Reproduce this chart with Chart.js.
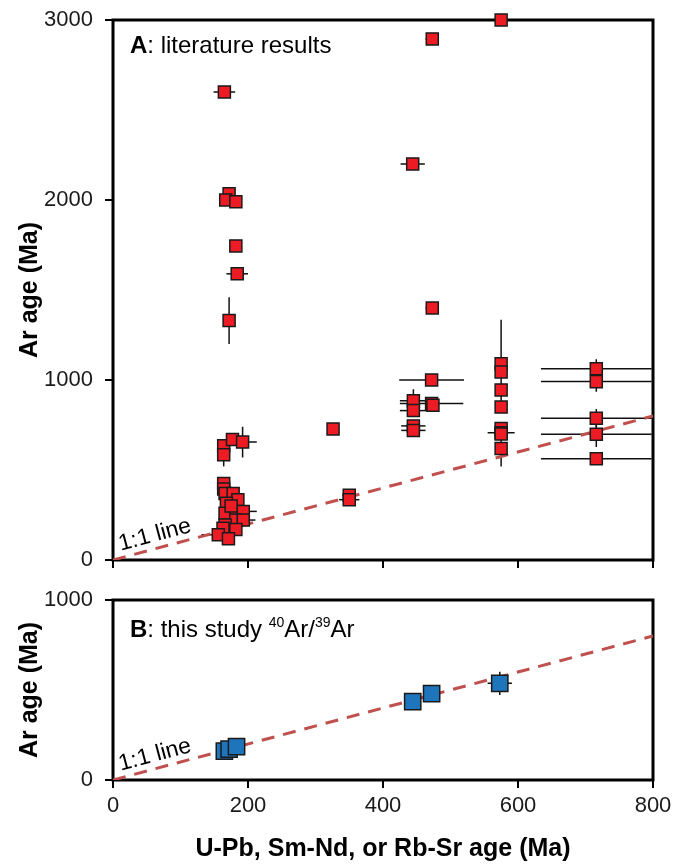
<!DOCTYPE html>
<html>
<head>
<meta charset="utf-8">
<script src="https://cdn.jsdelivr.net/npm/chart.js@4.4.0/dist/chart.umd.min.js"></script>
<style>
  html, body { margin: 0; padding: 0; background: #fff; }
  #wrap { position: relative; width: 673px; height: 864px; }
  canvas { position: absolute; left: 0; }
  #chartA { top: 0; }
  #chartB { top: 580px; }
</style>
</head>
<body>
<div id="wrap">
  <canvas id="chartA" width="673" height="580"></canvas>
  <canvas id="chartB" width="673" height="284"></canvas>
</div>
<script>
// --- Data ---

// Panel A: literature results (x = U-Pb/Sm-Nd/Rb-Sr age, y = Ar age, Ma)
const litX = [165, 172, 167, 182, 182, 184, 172,
  164, 164, 177, 192, 164, 164, 166, 178, 185, 168, 166, 182, 193, 182, 193, 166, 182, 163, 156, 171, 175,
  326, 350, 350,
  444, 445, 445, 445, 445,
  473, 473, 472, 472, 474,
  575, 575, 575, 575, 575, 575, 575, 575, 575,
  716, 716, 716, 716, 716];
const litY = [2600, 2035, 2000, 1990, 1745, 1590, 1330,
  635, 585, 670, 655, 425, 395, 370, 370, 335, 315, 260, 270, 270, 222, 222, 195, 170, 176, 140, 118, 300,
  728, 360, 335,
  2200, 885, 830, 745, 720,
  2895, 1400, 1000, 870, 860,
  3000, 1090, 1045, 945, 850, 730, 707, 700, 620,
  1063, 991, 787, 698, 563];
const litXErr = [16, 0, 0, 0, 0, 16, 0,
  0, 0, 0, 21, 0, 0, 0, 0, 0, 0, 0, 0, 20, 0, 18, 0, 0, 0, 25, 0, 0,
  0, 10, 15,
  18, 20, 20, 18, 18,
  10, 10, 48, 47, 0,
  0, 0, 0, 0, 0, 0, 20, 0, 0,
  82, 82, 82, 82, 82];
const litYErr = [0, 0, 0, 25, 0, 0, 130,
  0, 65, 0, 85, 0, 0, 0, 0, 0, 0, 0, 0, 0, 0, 0, 0, 0, 0, 0, 0, 0,
  0, 0, 0,
  0, 64, 0, 0, 0,
  0, 0, 0, 0, 0,
  0, 245, 0, 0, 0, 0, 0, 0, 100,
  52, 56, 52, 70, 0];

// Panel B: this study 40Ar/39Ar
const studyX = [165, 172, 183, 444, 472, 573];
const studyY = [160, 172, 185, 435, 480, 537];
const studyXErr = [0, 0, 0, 12, 0, 18];
const studyYErr = [0, 0, 0, 0, 0, 65];

// 1:1 reference line
const lineX = [0, 800];
const lineY = [0, 800];

// Tick labels
const xTicks = [0, 200, 400, 600, 800];
const yTicksA = [0, 1000, 2000, 3000];
const yTicksB = [0, 1000];

const FONT = "'Liberation Sans', Arial, sans-serif";

// --- Plugins ---

// Draws x/y error bars (stored on each dataset) under the markers.
const errorBars = {
  id: 'errorBars',
  beforeDatasetsDraw(chart) {
    const { ctx, chartArea, scales: { x, y } } = chart;
    ctx.save();
    ctx.beginPath();
    ctx.rect(chartArea.left, chartArea.top, chartArea.width, chartArea.height);
    ctx.clip();
    ctx.strokeStyle = '#111';
    ctx.lineWidth = 1.5;
    chart.data.datasets.forEach(ds => {
      if (!ds.xErr) return;
      ds.data.forEach((p, i) => {
        const px = x.getPixelForValue(p.x);
        const py = y.getPixelForValue(p.y);
        const ex = ds.xErr[i], ey = ds.yErr[i];
        ctx.beginPath();
        if (ex) {
          ctx.moveTo(x.getPixelForValue(p.x - ex), py);
          ctx.lineTo(x.getPixelForValue(p.x + ex), py);
        }
        if (ey) {
          ctx.moveTo(px, y.getPixelForValue(p.y - ey));
          ctx.lineTo(px, y.getPixelForValue(p.y + ey));
        }
        ctx.stroke();
      });
    });
    ctx.restore();
  }
};

// Full black frame around the plot area
const frame = {
  id: 'frame',
  beforeDatasetsDraw(chart) {
    const { ctx, chartArea: a } = chart;
    ctx.save();
    ctx.strokeStyle = '#000';
    ctx.lineWidth = 3;
    ctx.strokeRect(a.left, a.top, a.right - a.left, a.bottom - a.top);
    ctx.restore();
  }
};

// Panel caption + "1:1 line" label along the dashed line
const annotations = {
  id: 'annotations',
  afterDatasetsDraw(chart, args, opts) {
    const { ctx, chartArea: a, scales: { x, y } } = chart;
    ctx.save();
    ctx.fillStyle = '#000';
    ctx.textBaseline = 'alphabetic';
    ctx.textAlign = 'left';

    // caption
    let cx = a.left + 17;
    const cy = a.top + opts.captionDy;
    ctx.font = `bold 24px ${FONT}`;
    ctx.fillText(opts.letter, cx, cy);
    cx += ctx.measureText(opts.letter).width;
    ctx.font = `24px ${FONT}`;
    opts.parts.forEach(part => {
      if (part.sup) {
        ctx.font = `14px ${FONT}`;
        ctx.fillText(part.text, cx, cy - 10);
        cx += ctx.measureText(part.text).width;
        ctx.font = `24px ${FONT}`;
      } else {
        ctx.fillText(part.text, cx, cy);
        cx += ctx.measureText(part.text).width;
      }
    });

    // 1:1 line label
    const x0 = x.getPixelForValue(lineX[0]), y0 = y.getPixelForValue(lineY[0]);
    const x1 = x.getPixelForValue(lineX[1]), y1 = y.getPixelForValue(lineY[1]);
    const ang = Math.atan2(y1 - y0, x1 - x0);
    ctx.translate(x.getPixelForValue(14), y.getPixelForValue(14));
    ctx.rotate(ang);
    ctx.font = `23px ${FONT}`;
    ctx.fillText('1:1 line', 0, -7);
    ctx.restore();
  }
};

// --- Helpers ---

const toPoints = (xs, ys) => xs.map((v, i) => ({ x: v, y: ys[i] }));

const tickGrid = { drawOnChartArea: false, drawTicks: true, tickLength: 8, color: '#000', lineWidth: 2 };

// keep the plot area exactly where the layout padding puts it
const noLabelPadding = s => {
  s.paddingTop = 0; s.paddingBottom = 0; s.paddingLeft = 0; s.paddingRight = 0;
};

function makeY(max, ticks, fitWidth) {
  return {
    type: 'linear', min: 0, max: max,
    afterBuildTicks: s => { s.ticks = ticks.map(v => ({ value: v })); },
    ticks: { color: '#1a1a1a', font: { family: FONT, size: 22 }, padding: 12, callback: v => String(v) },
    grid: tickGrid,
    border: { display: false },
    title: { display: true, text: 'Ar age (Ma)', color: '#000',
      font: { family: FONT, size: 25, weight: 'bold' }, padding: { top: 15, bottom: 0 } },
    afterFit: s => { s.width = fitWidth; noLabelPadding(s); }
  };
}

function makeX(showLabels, fitHeight) {
  return {
    type: 'linear', min: 0, max: 800,
    afterBuildTicks: s => { s.ticks = xTicks.map(v => ({ value: v })); },
    ticks: { display: showLabels, color: '#1a1a1a', font: { family: FONT, size: 22 }, padding: 5,
      maxRotation: 0, callback: v => String(v) },
    grid: tickGrid,
    border: { display: false },
    title: { display: showLabels, text: 'U-Pb, Sm-Nd, or Rb-Sr age (Ma)', color: '#000',
      font: { family: FONT, size: 25, weight: 'bold' }, padding: { top: 0, bottom: 0 } },
    afterFit: s => { s.height = fitHeight; noLabelPadding(s); }
  };
}

function oneToOneDataset() {
  return {
    type: 'scatter',
    data: toPoints(lineX, lineY),
    showLine: true,
    borderColor: '#C0504D',
    borderWidth: 3,
    borderDash: [13, 9],
    pointRadius: 0,
    order: 2
  };
}

// --- Charts ---

new Chart(document.getElementById('chartA').getContext('2d'), {
  type: 'scatter',
  data: {
    datasets: [
      {
        data: toPoints(litX, litY),
        xErr: litXErr,
        yErr: litYErr,
        pointStyle: 'rect',
        pointRadius: 8.5,
        backgroundColor: '#ED1C24',
        borderColor: '#1a1a1a',
        borderWidth: 1.5,
        clip: false,
        order: 1
      },
      oneToOneDataset()
    ]
  },
  options: {
    responsive: false,
    animation: false,
    layout: { padding: { top: 20, right: 20, left: 0, bottom: 0 } },
    scales: { x: makeX(false, 20), y: makeY(3000, yTicksA, 113) },
    plugins: {
      legend: { display: false },
      tooltip: { enabled: false },
      annotations: { letter: 'A', captionDy: 33, parts: [{ text: ': literature results' }] }
    }
  },
  plugins: [frame, errorBars, annotations]
});

new Chart(document.getElementById('chartB').getContext('2d'), {
  type: 'scatter',
  data: {
    datasets: [
      {
        data: toPoints(studyX, studyY),
        xErr: studyXErr,
        yErr: studyYErr,
        pointStyle: 'rect',
        pointRadius: 11.5,
        backgroundColor: '#1F75BC',
        borderColor: '#1a1a1a',
        borderWidth: 1.5,
        clip: false,
        order: 1
      },
      oneToOneDataset()
    ]
  },
  options: {
    responsive: false,
    animation: false,
    layout: { padding: { top: 20, right: 20, left: 0, bottom: 0 } },
    scales: { x: makeX(true, 84), y: makeY(1000, yTicksB, 113) },
    plugins: {
      legend: { display: false },
      tooltip: { enabled: false },
      annotations: {
        letter: 'B',
        captionDy: 37,
        parts: [
          { text: ': this study ' },
          { text: '40', sup: true },
          { text: 'Ar/' },
          { text: '39', sup: true },
          { text: 'Ar' }
        ]
      }
    }
  },
  plugins: [frame, errorBars, annotations]
});
</script>
</body>
</html>
